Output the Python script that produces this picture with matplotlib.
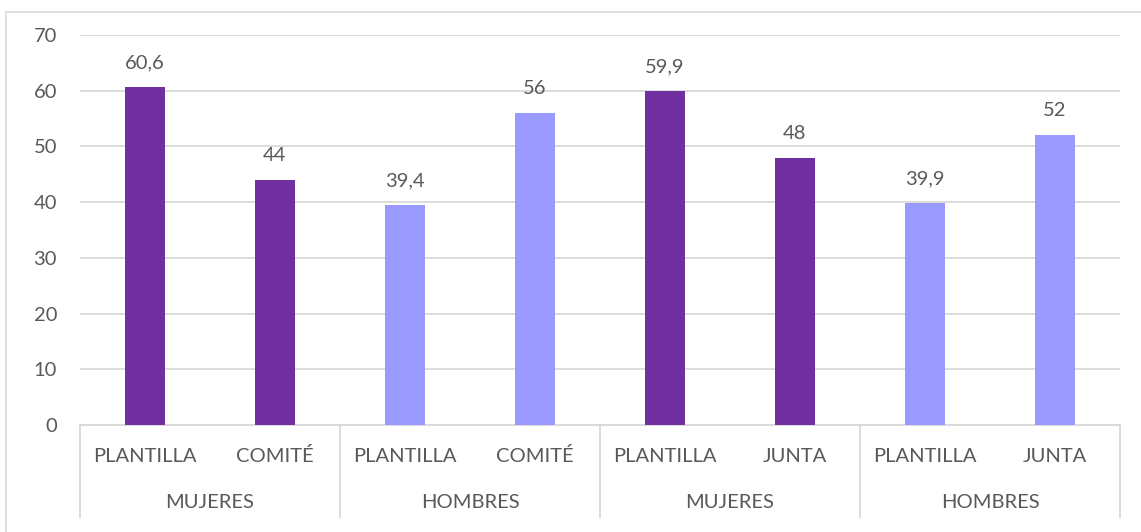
import matplotlib
matplotlib.use("Agg")
import matplotlib.pyplot as plt
from matplotlib.patches import Rectangle
from matplotlib.transforms import blended_transform_factory

categories = ["PLANTILLA", "COMITÉ", "PLANTILLA", "COMITÉ", "PLANTILLA", "JUNTA", "PLANTILLA", "JUNTA"]
groups = ["MUJERES", "HOMBRES", "MUJERES", "HOMBRES"]
values = [60.6, 44, 39.4, 56, 59.9, 48, 39.9, 52]
value_labels = ["60,6", "44", "39,4", "56", "59,9", "48", "39,9", "52"]
group_of_bar = [0, 0, 1, 1, 2, 2, 3, 3]
group_colors = ["#7030A0", "#9999FF", "#7030A0", "#9999FF"]
yticks = [0, 10, 20, 30, 40, 50, 60, 70]

plt.rcParams['font.family'] = ['Lato', 'DejaVu Sans']
TXT = "#595959"
GRID = "#D9D9D9"
FS = 14.5

W, H = 1141, 532
fig = plt.figure(figsize=(W / 100, H / 100), dpi=100)
fig.patch.set_facecolor("white")

# outer chart border (cropped at right/bottom)
fig.patches.append(Rectangle((6 / W, -0.1), 1.2, (532 - 12) / H + 0.1, transform=fig.transFigure,
                             fill=False, edgecolor=GRID, linewidth=1.2, zorder=0))

x0, x1 = 80, 1120
y0, y70 = 425, 35
ax = fig.add_axes([x0 / W, (H - y0) / H, (x1 - x0) / W, (y0 - y70) / H])

xs = list(range(len(values)))
colors = [group_colors[g] for g in group_of_bar]
ax.bar(xs, values, width=0.315, color=colors, zorder=3)

for x, v, lab in zip(xs, values, value_labels):
    ax.annotate(lab, (x, v), xytext=(0, 17.5), textcoords="offset points",
                ha="center", va="center", fontsize=FS, color=TXT)

ax.set_xlim(-0.5, len(values) - 0.5)
ax.set_ylim(0, 70)
ax.set_yticks(yticks)
ax.set_yticklabels([str(t) for t in yticks], fontsize=FS, color=TXT)
ax.tick_params(axis="y", length=0, pad=16.5)
ax.set_xticks([])
ax.yaxis.grid(True, color=GRID, linewidth=1.3, zorder=0)
ax.set_axisbelow(True)
for s in ["top", "right", "left"]:
    ax.spines[s].set_visible(False)
ax.spines["bottom"].set_color(GRID)
ax.spines["bottom"].set_linewidth(1.3)

axh = y0 - y70
tr = blended_transform_factory(ax.transData, ax.transAxes)
sub_y = -(456 - y0) / axh
grp_y = -(503 - y0) / axh
sep_bottom = -(517 - y0) / axh

for x, c in zip(xs, categories):
    ax.text(x, sub_y, c, transform=tr, ha="center", va="center", fontsize=FS, color=TXT)
for i, g in enumerate(groups):
    ax.text(2 * i + 0.5, grp_y, g, transform=tr, ha="center", va="center", fontsize=FS, color=TXT)
for i in range(len(groups) + 1):
    xs_ = 2 * i - 0.5
    ax.plot([xs_, xs_], [0, sep_bottom], transform=tr, color=GRID, linewidth=1.3,
            clip_on=False, zorder=1)

fig.savefig("out.png", dpi=100)
